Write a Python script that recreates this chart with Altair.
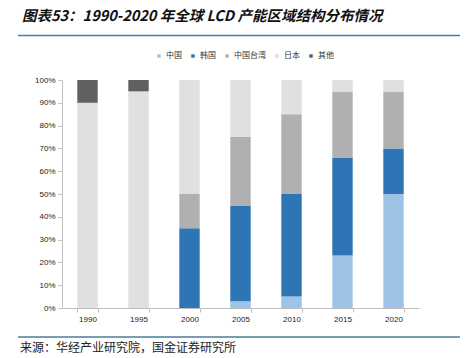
import altair as alt
import pandas as pd

years = ["1990", "1995", "2000", "2005", "2010", "2015", "2020"]
regions = ["中国", "韩国", "中国台湾", "日本", "其他"]
china = [0, 0, 0, 3, 5, 23, 50]
korea = [0, 0, 35, 42, 45, 43, 20]
taiwan = [0, 0, 15, 30, 35, 29, 25]
japan = [90, 95, 50, 25, 15, 5, 5]
other = [10, 5, 0, 0, 0, 0, 0]
colors = ["#9DC3E6", "#2E75B6", "#B0B0B0", "#E0E0E0", "#606060"]
y_ticks = [i / 10 for i in range(11)]

title_text = "图表53：1990-2020 年全球 LCD 产能区域结构分布情况"
source_text = "来源：华经产业研究院，国金证券研究所"

series = [china, korea, taiwan, japan, other]
rows = []
for r_i, (reg, vals) in enumerate(zip(regions, series)):
    for y, v in zip(years, vals):
        rows.append({"year": y, "region": reg, "value": v / 100, "order": r_i})
df = pd.DataFrame(rows)

W, H = 357, 228
PAD_L, PAD_T = 54, 72
SVG_W, SVG_H = 452, 350

bars = alt.Chart(df).mark_bar().encode(
    x=alt.X("year:N", sort=years, title=None,
            scale=alt.Scale(paddingInner=0.6, paddingOuter=0.3),
            axis=alt.Axis(labelAngle=0, tickBand="extent", tickSize=4,
                          domainColor="#BFBFBF", tickColor="#BFBFBF",
                          labelFont="Liberation Sans", labelFontSize=8,
                          labelColor="#222", labelPadding=3)),
    y=alt.Y("value:Q", stack="zero", title=None,
            scale=alt.Scale(domain=[0, 1]),
            axis=alt.Axis(values=y_ticks, format=".0%", grid=False, tickSize=4,
                          domainColor="#BFBFBF", tickColor="#BFBFBF",
                          labelFont="Liberation Sans", labelFontSize=8,
                          labelColor="#222", labelPadding=3)),
    color=alt.Color("region:N", sort=regions,
                    scale=alt.Scale(domain=regions, range=colors),
                    legend=alt.Legend(title=None, orient="none", direction="horizontal",
                                      legendX=93, legendY=-28,
                                      symbolType="square", symbolSize=12,
                                      symbolStrokeWidth=0,
                                      labelFont="Noto Sans CJK SC", labelFontSize=8,
                                      labelColor="#333", columnPadding=7,
                                      labelOffset=3)),
    order=alt.Order("order:Q"),
)

title_df = pd.DataFrame({"t": [title_text]})
title = alt.Chart(title_df).mark_text(
    align="left", baseline="middle", font="Noto Sans CJK SC", fontSize=14.5,
    fontStyle="italic", fontWeight="bold", color="#111"
).encode(text="t:N", x=alt.value(-40), y=alt.value(-63))

src_df = pd.DataFrame({"t": [source_text]})
source = alt.Chart(src_df).mark_text(
    align="left", baseline="middle", font="Noto Sans CJK SC", fontSize=12,
    color="#222"
).encode(text="t:N", x=alt.value(-42), y=alt.value(268))

line_top = alt.Chart(title_df).mark_rule(color="#4A7D9E", strokeWidth=1.6).encode(
    x=alt.value(-44), x2=alt.value(410), y=alt.value(-44.5))
line_bot = alt.Chart(title_df).mark_rule(color="#4A7D9E", strokeWidth=1.6).encode(
    x=alt.value(-44), x2=alt.value(410), y=alt.value(257))

chart = alt.layer(bars, title, source, line_top, line_bot).properties(
    width=W, height=H,
    autosize=alt.AutoSizeParams(type="none"),
    padding={"left": PAD_L, "top": PAD_T, "right": SVG_W - PAD_L - W,
             "bottom": SVG_H - PAD_T - H},
).configure_view(stroke=None)

chart.save("out.html", embed_options={"renderer": "svg", "actions": False})
